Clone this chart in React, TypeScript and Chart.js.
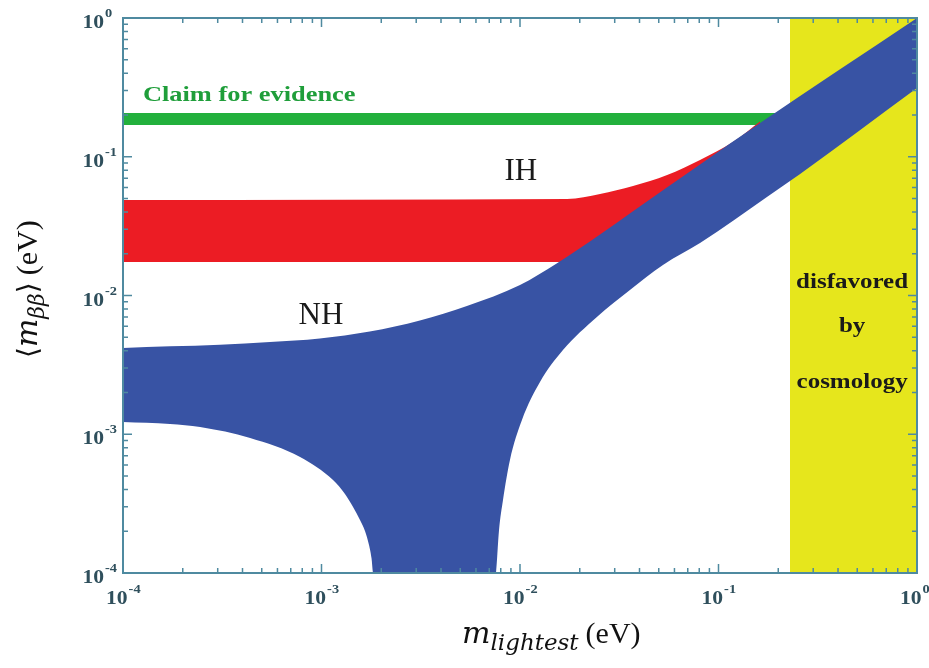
import { useEffect, useRef } from "react";
import { Chart, registerables } from "chart.js";

Chart.register(...registerables);

// Decades shown on both logarithmic axes (10^exp)
const xTickExponents = [-4, -3, -2, -1, 0];
const yTickExponents = [-4, -3, -2, -1, 0];

// Normal hierarchy (NH) allowed band, upper edge
const nhUpperX = [1e-4, 1.73e-4, 3.08e-4, 5.5e-4, 9.8e-4, 1.75e-3, 3.13e-3, 5.4e-3, 1e-2, 0.0153, 0.0253, 0.0371, 0.0807, 0.162, 1];
const nhUpperY = [0.00418, 0.0043, 0.00442, 0.00462, 0.0049, 0.0055, 0.0066, 0.0084, 0.0119, 0.017, 0.0275, 0.0405, 0.088, 0.175, 1.0];

// NH band, lower edge (drops through zero inside the funnel, so values there sit just below the axis)
const nhLowerX = [1e-4, 1.726e-4, 2.445e-4, 4.37e-4, 7.8e-4, 1.143e-3, 1.313e-3, 1.442e-3, 1.563e-3, 1.656e-3, 1.735e-3, 1.786e-3, 1.816e-3, 1.838e-3, 7.4e-3, 7.57e-3, 7.84e-3, 8.21e-3, 8.9e-3, 1.023e-2, 1.261e-2, 1.646e-2, 0.0244, 0.0358, 0.0525, 0.0807, 0.1754, 0.2577, 1];
const nhLowerY = [1.225e-3, 1.186e-3, 1.128e-3, 9.4e-4, 6.86e-4, 4.68e-4, 3.71e-4, 2.99e-4, 2.41e-4, 2.01e-4, 1.59e-4, 1.283e-4, 1e-4, 9e-5, 9e-5, 1e-4, 2.04e-4, 3.36e-4, 6.52e-4, 1.267e-3, 2.38e-3, 4.04e-3, 7.0e-3, 0.01096, 0.0166, 0.0239, 0.0513, 0.0751, 0.313];

// Inverted hierarchy (IH) allowed band
const ihUpperX = [1e-4, 0.01726, 0.0253, 0.0371, 0.0551, 0.0807, 0.1183, 0.162];
const ihUpperY = [0.0488, 0.0496, 0.0539, 0.0616, 0.0739, 0.0948, 0.1277, 0.18];
const ihLowerX = [1e-4, 0.0153, 0.0371, 0.0807, 0.162];
const ihLowerY = [0.0174, 0.0174, 0.0174, 0.045, 0.1];

// Claimed evidence level and cosmological bound on the lightest mass
const claimX = [1e-4, 0.2];
const claimValue = 0.187;
const cosmologyBoundX = [0.229, 1];

const BLUE = "#3853a4";
const RED = "#ec1c24";
const GREEN = "#22b03c";
const YELLOW = "#e6e61c";
const AXIS = "#4f8aa0";
const LABEL = "#2f4f5c";

const pts = (xs: number[], ys: number[]) => xs.map((x, i) => ({ x, y: ys[i] }));

function drawText(
  ctx: CanvasRenderingContext2D,
  text: string,
  x: number,
  y: number,
  font: string,
  color: string,
  align: "left" | "center" | "right" = "left",
  sx = 1
) {
  ctx.save();
  ctx.font = font;
  ctx.fillStyle = color;
  ctx.textBaseline = "alphabetic";
  ctx.textAlign = "left";
  const w = ctx.measureText(text).width * sx;
  const x0 = align === "center" ? x - w / 2 : align === "right" ? x - w : x;
  ctx.translate(x0, y);
  ctx.scale(sx, 1);
  ctx.fillText(text, 0, 0);
  ctx.restore();
  return w;
}

const decorations = {
  id: "decorations",
  beforeDraw(chart: any) {
    const { ctx, width, height } = chart;
    ctx.save();
    ctx.fillStyle = "#ffffff";
    ctx.fillRect(0, 0, width, height);
    ctx.restore();
  },
  afterDatasetsDraw(chart: any) {
    const { ctx, chartArea, scales } = chart;
    const { left, right, top, bottom } = chartArea;
    const xs = scales.x;
    const ys = scales.y;

    // frame
    ctx.save();
    ctx.strokeStyle = AXIS;
    ctx.lineWidth = 2;
    ctx.strokeRect(left, top, right - left, bottom - top);

    // inward ticks on all four sides
    ctx.lineWidth = 1.5;
    ctx.beginPath();
    for (let e = -4; e < 0; e++) {
      for (let m = 1; m <= 9; m++) {
        const v = m * Math.pow(10, e);
        const len = m === 1 ? 9 : 5;
        const px = xs.getPixelForValue(v);
        ctx.moveTo(px, bottom);
        ctx.lineTo(px, bottom - len);
        ctx.moveTo(px, top);
        ctx.lineTo(px, top + len);
        const py = ys.getPixelForValue(v);
        ctx.moveTo(left, py);
        ctx.lineTo(left + len, py);
        ctx.moveTo(right, py);
        ctx.lineTo(right - len, py);
      }
    }
    ctx.stroke();
    ctx.restore();

    // tick labels
    const baseFont = "bold 18px 'Liberation Serif'";
    const expFont = "bold 12px 'Liberation Serif'";
    xTickExponents.forEach((e) => {
      const px = xs.getPixelForValue(Math.pow(10, e));
      const w = drawText(ctx, "10", px - 17, bottom + 31, baseFont, LABEL, "left", 1.2);
      drawText(ctx, String(e), px - 17 + w + 1, bottom + 20, expFont, LABEL, "left", 1.2);
    });
    yTickExponents.forEach((e) => {
      const py = ys.getPixelForValue(Math.pow(10, e));
      drawText(ctx, "10", left - 19, py + 10, baseFont, LABEL, "right", 1.2);
      drawText(ctx, String(e), left - 18, py - 1, expFont, LABEL, "left", 1.2);
    });

    // annotations
    const at = (x: number, y: number) => [xs.getPixelForValue(x), ys.getPixelForValue(y)];
    let [ax, ay] = at(1.26e-4, 0.252);
    drawText(ctx, "Claim for evidence", ax, ay, "bold 22px 'Liberation Serif'", "#1f9e3a", "left", 1.2);
    [ax, ay] = at(0.0101, 0.068);
    drawText(ctx, "IH", ax, ay, "31px 'Liberation Serif'", "#1a1a1a", "center");
    [ax, ay] = at(9.94e-4, 0.00623);
    drawText(ctx, "NH", ax, ay, "31px 'Liberation Serif'", "#1a1a1a", "center");
    const cx = xs.getPixelForValue(0.471);
    const cosmoFont = "bold 20px 'Liberation Serif'";
    drawText(ctx, "disfavored", cx, ys.getPixelForValue(0.01132), cosmoFont, "#1a1a1a", "center", 1.25);
    drawText(ctx, "by", cx, ys.getPixelForValue(0.00546), cosmoFont, "#1a1a1a", "center", 1.25);
    drawText(ctx, "cosmology", cx, ys.getPixelForValue(0.00215), cosmoFont, "#1a1a1a", "center", 1.25);

    // x axis title: m_lightest (eV)
    const mathFont = "italic 30px 'DejaVu Serif'";
    const subFont = "italic 23px 'DejaVu Serif'";
    const romFont = "30px 'Liberation Serif'";
    let tx = 462;
    const tb = 643;
    tx += drawText(ctx, "m", tx, tb, mathFont, "#111111");
    tx += drawText(ctx, "lightest", tx, tb + 7, subFont, "#111111");
    tx += 7;
    drawText(ctx, "(eV)", tx, tb, romFont, "#111111");

    // y axis title: <m_bb> (eV), rotated
    ctx.save();
    ctx.translate(37, 358);
    ctx.rotate(-Math.PI / 2);
    let ty = 0;
    ty += drawText(ctx, "\u27E8", ty, 0, "28px 'DejaVu Serif'", "#111111");
    ty += drawText(ctx, "m", ty, 0, mathFont, "#111111");
    ty += drawText(ctx, "\u03B2\u03B2", ty, 7, "italic 22px 'DejaVu Serif'", "#111111");
    ty += drawText(ctx, "\u27E9", ty, 0, "28px 'DejaVu Serif'", "#111111");
    ty += 7;
    drawText(ctx, "(eV)", ty, 0, romFont, "#111111");
    ctx.restore();
  },
};

export default function App() {
  const canvasRef = useRef<HTMLCanvasElement | null>(null);

  useEffect(() => {
    if (!canvasRef.current) return;
    const chart = new Chart(canvasRef.current, {
      type: "line",
      data: {
        datasets: [
          {
            label: "NH upper",
            data: pts(nhUpperX, nhUpperY),
            borderWidth: 0,
            backgroundColor: BLUE,
            fill: "+1",
            order: 1,
            cubicInterpolationMode: "monotone",
          },
          {
            label: "NH lower",
            data: pts(nhLowerX, nhLowerY),
            borderWidth: 0,
            fill: false,
            order: 1,
            cubicInterpolationMode: "monotone",
          },
          {
            label: "IH upper",
            data: pts(ihUpperX, ihUpperY),
            borderWidth: 0,
            backgroundColor: RED,
            fill: "+1",
            order: 2,
            cubicInterpolationMode: "monotone",
          },
          {
            label: "IH lower",
            data: pts(ihLowerX, ihLowerY),
            borderWidth: 0,
            fill: false,
            order: 2,
            cubicInterpolationMode: "monotone",
          },
          {
            label: "Claim for evidence",
            data: claimX.map((x) => ({ x, y: claimValue })),
            borderColor: GREEN,
            borderWidth: 12,
            fill: false,
            order: 3,
          },
          {
            label: "disfavored by cosmology",
            data: cosmologyBoundX.map((x) => ({ x, y: 1 })),
            borderWidth: 0,
            backgroundColor: YELLOW,
            fill: { value: 1e-4 },
            order: 4,
          },
        ],
      } as any,
      options: {
        responsive: false,
        animation: false,
        devicePixelRatio: 1,
        layout: { padding: { left: 123, top: 18, right: 12, bottom: 95 } },
        elements: { point: { radius: 0, hoverRadius: 0 } },
        plugins: {
          legend: { display: false },
          tooltip: { enabled: false },
        },
        scales: {
          x: { type: "logarithmic", min: 1e-4, max: 1, display: false },
          y: { type: "logarithmic", min: 1e-4, max: 1, display: false },
        },
      } as any,
      plugins: [decorations],
    });
    return () => chart.destroy();
  }, []);

  return (
    <div style={{ position: "absolute", left: 0, top: 0, width: 929, height: 668 }}>
      <canvas ref={canvasRef} width={929} height={668} />
    </div>
  );
}
